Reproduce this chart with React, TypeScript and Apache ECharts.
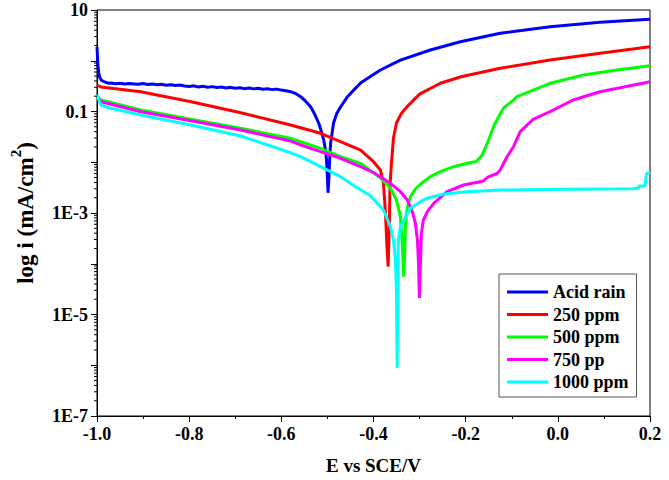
import React, { useEffect, useRef } from "react";
import * as echarts from "echarts";

const FONT = '"Liberation Serif", "Times New Roman", serif';

const SERIES_NAMES = ["Acid rain", "250 ppm", "500 ppm", "750 pp", "1000 ppm"];
const SERIES_COLORS = ["#0000ff", "#ff0000", "#00ff00", "#ff00ff", "#00ffff"];

// Potential E (V vs SCE) and current density i (mA/cm2)
const E_ACID = [-1.0, -0.999, -0.998, -0.996, -0.9935, -0.99, -0.985, -0.98, -0.975, -0.97, -0.96, -0.95, -0.94, -0.93, -0.92, -0.91, -0.9, -0.89, -0.88, -0.87, -0.86, -0.85, -0.84, -0.83, -0.82, -0.81, -0.8, -0.79, -0.78, -0.77, -0.76, -0.75, -0.74, -0.73, -0.72, -0.71, -0.7, -0.69, -0.68, -0.67, -0.66, -0.65, -0.64, -0.63, -0.62, -0.61, -0.6, -0.59, -0.58, -0.57, -0.558, -0.547, -0.5365, -0.528, -0.519, -0.513, -0.508, -0.504, -0.502, -0.5, -0.4986, -0.497, -0.495, -0.493, -0.4867, -0.48, -0.4715, -0.4563, -0.442, -0.428, -0.405, -0.385, -0.3416, -0.2766, -0.2116, -0.125, -0.0167, 0.0916, 0.2];
const I_ACID = [1.87, 1.2, 0.82, 0.55, 0.457, 0.41, 0.39, 0.372, 0.36, 0.366, 0.352, 0.361, 0.347, 0.357, 0.35, 0.343, 0.356, 0.34, 0.347, 0.335, 0.343, 0.33, 0.338, 0.325, 0.333, 0.318, 0.312, 0.32, 0.305, 0.314, 0.3, 0.309, 0.296, 0.303, 0.291, 0.299, 0.288, 0.294, 0.282, 0.29, 0.279, 0.287, 0.274, 0.281, 0.27, 0.276, 0.264, 0.256, 0.246, 0.228, 0.196, 0.158, 0.124, 0.09, 0.0593, 0.04, 0.0274, 0.017, 0.0111, 0.005, 0.0025, 0.0045, 0.012, 0.024, 0.0593, 0.09, 0.1228, 0.196, 0.27, 0.365, 0.5, 0.658, 1.03, 1.63, 2.37, 3.47, 4.69, 5.73, 6.56];

const E_250 = [-1.0, -0.991, -0.905, -0.796, -0.688, -0.58, -0.515, -0.4715, -0.428, -0.4, -0.385, -0.3784, -0.374, -0.3708, -0.3682, -0.3654, -0.3643, -0.361, -0.3567, -0.35, -0.34, -0.327, -0.3, -0.255, -0.21, -0.125, -0.017, 0.092, 0.2];
const I_250 = [0.333, 0.304, 0.246, 0.156, 0.0947, 0.0542, 0.0372, 0.0254, 0.0174, 0.01026, 0.00703, 0.0039, 0.001, 0.000217, 0.0000875, 0.000728, 0.0033, 0.00966, 0.03, 0.06, 0.09, 0.125, 0.22, 0.36, 0.485, 0.71, 1.03, 1.4, 1.89];

const E_500 = [-0.999, -0.9913, -0.9047, -0.7964, -0.6881, -0.5798, -0.5582, -0.5148, -0.4715, -0.4282, -0.3849, -0.3632, -0.3502, -0.3416, -0.3372, -0.3344, -0.3318, -0.3307, -0.3264, -0.3199, -0.3091, -0.2917, -0.2766, -0.2549, -0.2261, -0.1971, -0.177, -0.164, -0.1503, -0.138, -0.1178, -0.0962, -0.0888, -0.0167, 0.0554, 0.1278, 0.2];
const I_500 = [0.19, 0.1686, 0.107, 0.0702, 0.0467, 0.0296, 0.0254, 0.01883, 0.01286, 0.00953, 0.0049, 0.00307, 0.0018, 0.000845, 0.000217, 0.0000556, 0.000217, 0.000627, 0.00133, 0.00209, 0.00297, 0.00414, 0.00519, 0.00652, 0.00817, 0.00953, 0.01035, 0.0139, 0.0274, 0.0542, 0.1172, 0.1686, 0.196, 0.36, 0.524, 0.658, 0.799];

const E_750 = [-0.999, -0.9913, -0.9047, -0.7964, -0.6881, -0.5798, -0.5582, -0.5148, -0.4715, -0.4282, -0.4, -0.3632, -0.3416, -0.3264, -0.3156, -0.3091, -0.3047, -0.3026, -0.3004, -0.2982, -0.2961, -0.2917, -0.2831, -0.2694, -0.2404, -0.2045, -0.1611, -0.1531, -0.1321, -0.125, -0.1105, -0.0962, -0.0817, -0.0528, -0.0167, 0.033, 0.0916, 0.2];
const I_750 = [0.2, 0.156, 0.0991, 0.0659, 0.0432, 0.0262, 0.0219, 0.01614, 0.01197, 0.00817, 0.00628, 0.00385, 0.00263, 0.0018, 0.00106, 0.000627, 0.000294, 0.000119, 0.0000211, 0.000102, 0.000398, 0.000728, 0.00106, 0.00155, 0.00263, 0.00356, 0.00428, 0.00501, 0.006, 0.00703, 0.01268, 0.0202, 0.04, 0.0711, 0.0991, 0.1686, 0.245, 0.386];

const E_1000 = [-1.0, -0.996, -0.9913, -0.9697, -0.9047, -0.7964, -0.6881, -0.5906, -0.5582, -0.5148, -0.4715, -0.439, -0.4087, -0.3784, -0.3632, -0.3567, -0.3524, -0.3502, -0.3487, -0.347, -0.3459, -0.3416, -0.3307, -0.3199, -0.2983, -0.2837, -0.2478, -0.1971, -0.125, 0.0195, 0.1638, 0.1746, 0.1761, 0.1891, 0.1927, 0.2];
const I_1000 = [0.215, 0.169, 0.134, 0.1156, 0.0853, 0.0542, 0.0329, 0.01668, 0.01286, 0.00817, 0.00519, 0.0033, 0.00226, 0.00115, 0.000537, 0.000294, 0.000119, 0.0000265, 0.000000883, 0.0000753, 0.000294, 0.000537, 0.000845, 0.00124, 0.00167, 0.00195, 0.00237, 0.00263, 0.00284, 0.00293, 0.00301, 0.00307, 0.0034, 0.0034, 0.00605, 0.00614];

const X_TICKS_MIN = -1.0;
const X_TICKS_MAX = 0.2;
const Y_DECADE_MIN = -7;
const Y_DECADE_MAX = 1;
const Y_LABELS: Record<string, string> = { "1": "10", "-1": "0.1", "-3": "1E-3", "-5": "1E-5", "-7": "1E-7" };

const SERIES_E = [E_ACID, E_250, E_500, E_750, E_1000];
const SERIES_I = [I_ACID, I_250, I_500, I_750, I_1000];

export default function App() {
  const ref = useRef<HTMLDivElement>(null);
  useEffect(() => {
    if (!ref.current) return;
    const chart = echarts.init(ref.current, undefined, { renderer: "svg" });

    const minorData: number[][] = [];
    for (let d = Y_DECADE_MIN; d < Y_DECADE_MAX; d++) {
      for (let k = 2; k <= 9; k++) minorData.push([X_TICKS_MIN, d + Math.log10(k)]);
    }

    const lineSeries = SERIES_NAMES.map((name, s) => ({
      name,
      type: "line",
      color: SERIES_COLORS[s],
      showSymbol: false,
      symbol: "none",
      lineStyle: { color: SERIES_COLORS[s], width: 3 },
      data: SERIES_E[s].map((e, j) => [e, Math.log10(SERIES_I[s][j])]),
      z: 3 + s,
    }));

    const option: any = {
      animation: false,
      grid: { left: 96, right: 19, top: 10, bottom: 64, show: true, borderColor: "#000", borderWidth: 1 },
      legend: {
        orient: "vertical",
        left: 499,
        top: 274,
        icon: "rect",
        itemWidth: 41,
        itemHeight: 3,
        itemGap: 4.5,
        padding: [9, 8, 6, 8],
        borderColor: "#555",
        borderWidth: 1,
        backgroundColor: "#fff",
        data: SERIES_NAMES,
        textStyle: { fontFamily: FONT, fontWeight: "bold", fontSize: 18, color: "#000", lineHeight: 18 },
      },
      xAxis: {
        type: "value",
        min: X_TICKS_MIN,
        max: X_TICKS_MAX,
        interval: 0.2,
        name: "E vs SCE/V",
        nameLocation: "middle",
        nameGap: 40,
        nameTextStyle: { fontFamily: FONT, fontWeight: "bold", fontSize: 19, color: "#000" },
        axisLine: { onZero: false, lineStyle: { color: "#000", width: 1 } },
        axisTick: { length: 6, lineStyle: { color: "#000" } },
        minorTick: { show: true, splitNumber: 2, length: 3, lineStyle: { color: "#000" } },
        splitLine: { show: false },
        axisLabel: {
          margin: 9,
          fontFamily: FONT,
          fontWeight: "bold",
          fontSize: 18,
          color: "#000",
          formatter: (v: number) => (Math.abs(v) < 1e-9 ? "0.0" : v.toFixed(1)),
        },
      },
      yAxis: {
        type: "value",
        min: Y_DECADE_MIN,
        max: Y_DECADE_MAX,
        interval: 1,
        name: "{a|log i (mA/cm}{b|2}{a|)}",
        nameLocation: "middle",
        nameGap: 60,
        nameRotate: 90,
        nameTextStyle: {
          rich: {
            a: { fontFamily: FONT, fontWeight: "bold", fontSize: 23, color: "#000", lineHeight: 29, verticalAlign: "bottom" },
            b: { fontFamily: FONT, fontWeight: "bold", fontSize: 15, color: "#000", lineHeight: 15, verticalAlign: "top" },
          },
        },
        axisLine: { show: true, onZero: false, lineStyle: { color: "#000", width: 1 } },
        axisTick: { length: 6, lineStyle: { color: "#000" } },
        splitLine: { show: false },
        axisLabel: {
          margin: 9,
          fontFamily: FONT,
          fontWeight: "bold",
          fontSize: 18,
          color: "#000",
          formatter: (v: number) => Y_LABELS[String(Math.round(v))] || "",
        },
      },
      series: [
        ...lineSeries,
        {
          type: "custom",
          silent: true,
          clip: false,
          z: 10,
          data: minorData,
          encode: { x: 0, y: 1 },
          renderItem: (params: any, api: any) => {
            const p = api.coord([api.value(0), api.value(1)]);
            return {
              type: "line",
              shape: { x1: p[0] - 3, y1: p[1], x2: p[0], y2: p[1] },
              style: { stroke: "#000", lineWidth: 1 },
            };
          },
        },
      ],
    };
    chart.setOption(option);
    return () => chart.dispose();
  }, []);
  return <div ref={ref} style={{ position: "fixed", left: 0, top: 0, width: 669, height: 480, background: "#fff" }} />;
}
